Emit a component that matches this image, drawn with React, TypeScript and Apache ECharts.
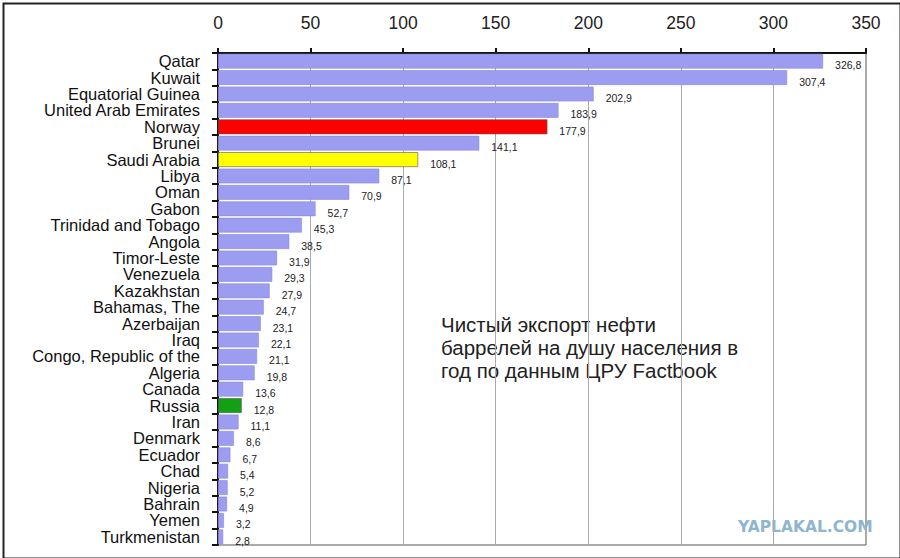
import React, { useEffect, useRef } from "react";
import * as echarts from "echarts";

const countries = [
  "Qatar", "Kuwait", "Equatorial Guinea", "United Arab Emirates", "Norway",
  "Brunei", "Saudi Arabia", "Libya", "Oman", "Gabon",
  "Trinidad and Tobago", "Angola", "Timor-Leste", "Venezuela", "Kazakhstan",
  "Bahamas, The", "Azerbaijan", "Iraq", "Congo, Republic of the", "Algeria",
  "Canada", "Russia", "Iran", "Denmark", "Ecuador",
  "Chad", "Nigeria", "Bahrain", "Yemen", "Turkmenistan",
];
const exportsPerCapita = [
  326.8, 307.4, 202.9, 183.9, 177.9,
  141.1, 108.1, 87.1, 70.9, 52.7,
  45.3, 38.5, 31.9, 29.3, 27.9,
  24.7, 23.1, 22.1, 21.1, 19.8,
  13.6, 12.8, 11.1, 8.6, 6.7,
  5.4, 5.2, 4.9, 3.2, 2.8,
];
// highlighted countries
const highlight: Record<string, string> = {
  Norway: "#ff0000",
  "Saudi Arabia": "#ffff00",
  Russia: "#14a014",
};
const noteLines = [
  "Чистый экспорт нефти",
  "баррелей на душу населения в",
  "год по данным ЦРУ Factbook",
];

const App: React.FC = () => {
  const chartRef = useRef<HTMLDivElement>(null);

  useEffect(() => {
    if (!chartRef.current) return;
    const chart = echarts.init(chartRef.current, undefined, { renderer: "svg" });

    const option: echarts.EChartsOption = {
      animation: false,
      backgroundColor: "#ffffff",
      textStyle: { fontFamily: "Liberation Sans, Arial, sans-serif" },
      grid: {
        left: 218,
        right: 34,
        top: 53,
        bottom: 13,
        show: true,
        borderColor: "#555",
        borderWidth: 1,
        containLabel: false,
      },
      xAxis: {
        type: "value",
        position: "top",
        min: 0,
        max: 350,
        interval: 50,
        axisLine: { show: true, lineStyle: { color: "#111", width: 2 } },
        axisTick: { show: true, length: 5, lineStyle: { color: "#111", width: 2 } },
        axisLabel: { fontSize: 17.5, color: "#222", margin: 21 },
        splitLine: { show: true, lineStyle: { color: "#aaa", width: 1 } },
      },
      yAxis: {
        type: "category",
        data: countries,
        inverse: true,
        axisLine: { show: true, lineStyle: { color: "#111", width: 2 } },
        axisTick: { show: true, length: 6, lineStyle: { color: "#111", width: 2 } },
        axisLabel: {
          interval: 0,
          fontSize: 16.5,
          lineHeight: 15,
          color: "#111",
          margin: 18,
        },
      },
      series: [
        {
          type: "bar",
          data: exportsPerCapita.map((v, i) => ({
            value: v,
            itemStyle: {
              color: highlight[countries[i]] ?? "#9c9cf0",
              borderColor: highlight[countries[i]] ? "#555" : "#8a8ad8",
              borderWidth: 0.6,
            },
          })),
          barCategoryGap: "10%",
          label: {
            show: true,
            position: "right",
            distance: 12,
            offset: [0, 4],
            fontSize: 10.5,
            color: "#222",
            formatter: (p: any) => String(p.value).replace(".", ","),
          },
        },
      ],
      graphic: [
        {
          type: "rect",
          left: 1,
          top: 1,
          shape: { width: 897, height: 555 },
          style: { fill: "none", stroke: "#222", lineWidth: 2 },
          silent: true,
        },
        {
          type: "text",
          left: 441,
          top: 313,
          style: {
            text: noteLines.join("\n"),
            fontSize: 20.5,
            lineHeight: 23,
            fill: "#222",
            fontFamily: "Liberation Sans, Arial, sans-serif",
          },
        },
        {
          type: "text",
          left: 738,
          top: 519,
          style: {
            text: "YAPLAKAL.COM",
            fontSize: 15.5,
            fontWeight: "bold",
            fill: "#8fb6cf",
            fontFamily: "DejaVu Sans, sans-serif",
          },
        },
      ],
    };

    chart.setOption(option as any);
    return () => {
      chart.dispose();
    };
  }, []);

  return (
    <div
      ref={chartRef}
      style={{ position: "fixed", left: 0, top: 0, width: "900px", height: "558px" }}
    />
  );
};

export default App;
